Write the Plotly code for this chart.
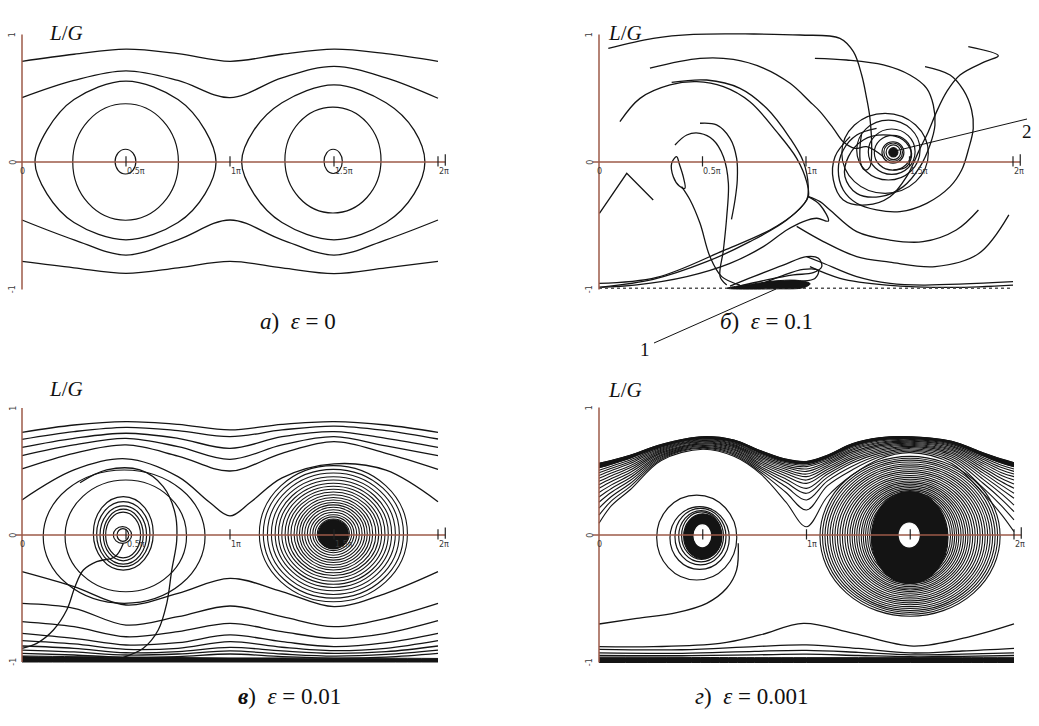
import plotly.graph_objects as go

W, H = 1039, 726
INK = '#141414'
AXIS = '#9c5a48'
LBL = '#3a3a3a'

# ---------------------------------------------------------------
# shared sample positions along the angle axis (units of pi)
X9 = [0, 0.25, 0.5, 0.75, 1.0, 1.25, 1.5, 1.75, 2.0]

# ---------------- panel а)  eps = 0 ----------------------------
a_wave1_y = [0.79, 0.845, 0.885, 0.85, 0.79, 0.845, 0.885, 0.85, 0.79]
a_wave2_y = [0.505, 0.64, 0.715, 0.64, 0.505, 0.66, 0.75, 0.66, 0.5]
a_wave3_y = [-0.455, -0.61, -0.73, -0.61, -0.455, -0.61, -0.73, -0.61, -0.455]
a_wave4_y = [-0.78, -0.83, -0.873, -0.83, -0.78, -0.83, -0.875, -0.83, -0.78]
a_loopL_x = [0.0625, 0.12, 0.25, 0.5, 0.75, 0.88, 0.933, 0.88, 0.75, 0.5, 0.25, 0.12, 0.0625]
a_loopL_y = [0, 0.25, 0.49, 0.635, 0.49, 0.25, 0, -0.25, -0.475, -0.61, -0.475, -0.25, 0]
a_loopR_x = [1.056, 1.115, 1.25, 1.5, 1.75, 1.885, 1.937, 1.885, 1.75, 1.5, 1.25, 1.115, 1.056]
a_loopR_y = [0, 0.25, 0.465, 0.605, 0.465, 0.25, 0, -0.25, -0.475, -0.61, -0.475, -0.25, 0]
a_ring_cx = [0.498, 1.495, 0.4975, 1.496]
a_ring_cy = [0.0, 0.015, 0.003, 0.005]
a_ring_rx = [0.254, 0.231, 0.05, 0.044]
a_ring_ry = [0.457, 0.415, 0.097, 0.095]

# ---------------- panel б)  eps = 0.1 --------------------------
b_c1_x = [0.045, 0.262, 0.456, 0.746, 0.971, 1.164, 1.229, 1.269, 1.293, 1.309, 1.317, 1.309, 1.285, 1.264, 1.261, 1.269]
b_c1_y = [0.891, 0.970, 1.001, 1.004, 0.996, 0.970, 0.865, 0.682, 0.499, 0.342, 0.081, -0.037, -0.063, -0.010, 0.120, 0.225]
b_c2_x = [0.246, 0.488, 0.649, 0.794, 0.923, 1.019, 1.068, 1.132, 1.180, 1.237, 1.293, 1.374]
b_c2_y = [0.737, 0.813, 0.805, 0.737, 0.617, 0.473, 0.395, 0.264, 0.159, 0.107, 0.12, 0.042]
b_c3_x = [1.043, 1.196, 1.374, 1.502, 1.583, 1.615, 1.623, 1.599, 1.551, 1.470, 1.357, 1.245, 1.188, 1.205, 1.277, 1.374, 1.470, 1.510, 1.486, 1.422]
b_c3_y = [0.813, 0.800, 0.761, 0.682, 0.578, 0.447, 0.290, 0.133, -0.037, -0.193, -0.272, -0.246, -0.115, 0.042, 0.173, 0.212, 0.173, 0.068, -0.037, -0.063]
b_c4_x = [1.784, 1.929, 1.865, 1.744, 1.680, 1.631, 1.591, 1.551, 1.486, 1.406, 1.293, 1.180, 1.132, 1.140, 1.213]
b_c4_y = [0.905, 0.834, 0.787, 0.682, 0.552, 0.395, 0.238, 0.107, -0.115, -0.272, -0.337, -0.298, -0.141, 0.042, 0.199]
b_c5_x = [1.575, 1.696, 1.760, 1.800, 1.808, 1.784, 1.752, 1.696, 1.583, 1.454, 1.341, 1.245, 1.180, 1.156, 1.180, 1.245, 1.341]
b_c5_y = [0.748, 0.682, 0.565, 0.408, 0.264, 0.094, -0.063, -0.193, -0.324, -0.389, -0.376, -0.324, -0.220, -0.063, 0.094, 0.212, 0.264]
b_L1_x = [0.101, 0.198, 0.343, 0.472, 0.601, 0.729, 0.858, 0.955, 1.003, 1.011, 0.955, 0.826, 0.601, 0.279, 0.0]
b_L1_y = [0.316, 0.499, 0.604, 0.630, 0.591, 0.473, 0.238, 0.029, -0.154, -0.272, -0.389, -0.533, -0.695, -0.905, -0.952]
b_L2_x = [0.351, 0.520, 0.681, 0.810, 0.923, 0.987, 1.011, 1.003, 0.907, 0.729, 0.520, 0.262, 0.0]
b_L2_y = [0.625, 0.643, 0.578, 0.421, 0.186, 0.003, -0.193, -0.298, -0.455, -0.625, -0.782, -0.920, -0.983]
b_hook_x = [1.011, 1.068, 1.108, 1.052, 0.987, 0.907, 0.794, 0.633, 0.424, 0.182, 0.0]
b_hook_y = [-0.272, -0.337, -0.463, -0.441, -0.467, -0.533, -0.664, -0.795, -0.899, -0.964, -0.983]
b_R1_x = [1.011, 1.068, 1.116, 1.245, 1.404, 1.565, 1.726, 1.833]
b_R1_y = [-0.272, -0.311, -0.376, -0.546, -0.612, -0.625, -0.533, -0.376]
b_R2_x = [0.955, 1.084, 1.245, 1.404, 1.624, 1.833, 1.98]
b_R2_y = [-0.505, -0.624, -0.742, -0.785, -0.82, -0.72, -0.415]
b_A1_x = [0.367, 0.424, 0.488, 0.552, 0.601, 0.625, 0.617, 0.601, 0.585, 0.617]
b_A1_y = [0.133, 0.212, 0.225, 0.173, 0.042, -0.167, -0.429, -0.690, -0.899, -0.965]
b_A2_x = [0.488, 0.568, 0.633, 0.665, 0.668, 0.657, 0.64]
b_A2_y = [0.304, 0.291, 0.186, 0.029, -0.141, -0.298, -0.45]
b_drop_x = [0.375, 0.351, 0.359, 0.388, 0.415, 0.407, 0.388, 0.375]
b_drop_y = [0.042, -0.010, -0.115, -0.188, -0.206, -0.115, -0.016, 0.042]
b_V1_x = [0.399, 0.440, 0.488, 0.536, 0.593, 0.681]
b_V1_y = [-0.193, -0.298, -0.481, -0.742, -0.899, -0.965]
b_wedge_x = [0.002, 0.134, 0.262]
b_wedge_y = [-0.403, -0.089, -0.298]
b_H1_x = [0.633, 0.746, 0.890, 1.003, 1.060, 1.076, 1.035, 0.939, 0.810, 0.665]
b_H1_y = [-0.973, -0.899, -0.808, -0.742, -0.755, -0.821, -0.868, -0.886, -0.925, -0.977]
b_H2_x = [0.746, 0.874, 0.987, 1.060, 1.043, 0.955, 0.842]
b_H2_y = [-0.983, -0.899, -0.842, -0.853, -0.913, -0.939, -0.978]
b_RB1_x = [1.003, 1.084, 1.245, 1.406, 1.567, 2.0]
b_RB1_y = [-0.742, -0.794, -0.899, -0.952, -0.965, -0.939]
b_RB2_x = [1.019, 1.164, 1.390, 1.712, 2.0]
b_RB2_y = [-0.821, -0.912, -0.965, -0.983, -0.965]
b_blob_x = [0.62, 0.75, 0.87, 0.97, 1.02, 0.99, 0.85, 0.62]
b_blob_y = [-0.99, -0.955, -0.93, -0.93, -0.955, -0.985, -0.995, -0.99]
b_spiral_cx = [1.422, 1.421, 1.420, 1.419, 1.414, 1.398, 1.382]
b_spiral_cy = [0.076, 0.077, 0.075, 0.073, 0.081, 0.094, 0.068]
b_spiral_rx = [0.035, 0.045, 0.053, 0.089, 0.113, 0.153, 0.209]
b_spiral_ry = [0.058, 0.072, 0.084, 0.136, 0.178, 0.235, 0.314]

# ---------------- panel в)  eps = 0.01 -------------------------
c_top_y = [
    [0.808, 0.866, 0.892, 0.871, 0.827, 0.871, 0.892, 0.866, 0.808],
    [0.753, 0.814, 0.848, 0.822, 0.774, 0.827, 0.858, 0.822, 0.756],
    [0.690, 0.761, 0.801, 0.761, 0.682, 0.774, 0.814, 0.761, 0.690],
    [0.625, 0.709, 0.761, 0.696, 0.596, 0.709, 0.774, 0.701, 0.625],
    [0.520, 0.643, 0.709, 0.622, 0.504, 0.643, 0.735, 0.643, 0.517],
]
c_sep_x = [0, 0.25, 0.5, 0.75, 0.9, 1.0, 1.1, 1.25, 1.5, 1.75, 2.0]
c_sep_y = [0.276, 0.512, 0.60, 0.46, 0.26, 0.15, 0.26, 0.45, 0.56, 0.51, 0.262]
c_bot_y = [
    [-0.289, -0.407, -0.551, -0.459, -0.341, -0.446, -0.564, -0.459, -0.289],
    [-0.538, -0.577, -0.709, -0.643, -0.559, -0.643, -0.722, -0.656, -0.538],
    [-0.682, -0.722, -0.801, -0.761, -0.696, -0.761, -0.814, -0.774, -0.675],
    [-0.774, -0.814, -0.866, -0.848, -0.787, -0.840, -0.879, -0.848, -0.774],
    [-0.832, -0.858, -0.900, -0.892, -0.840, -0.884, -0.911, -0.892, -0.832],
    [-0.874, -0.892, -0.927, -0.919, -0.885, -0.913, -0.932, -0.919, -0.874],
    [-0.906, -0.921, -0.945, -0.937, -0.913, -0.937, -0.953, -0.940, -0.906],
    [-0.932, -0.945, -0.963, -0.958, -0.937, -0.958, -0.969, -0.961, -0.932],
]
c_floor_y = [-0.952, -0.958, -0.962, -0.965, -0.968, -0.968, -0.97, -0.97, -0.972]
c_armA_x = [0.487, 0.447, 0.359, 0.295, 0.255, 0.215, 0.151, 0.071, 0.0]
c_armA_y = [-0.066, -0.171, -0.21, -0.276, -0.407, -0.591, -0.748, -0.853, -0.892]
c_armB_x = [0.279, 0.407, 0.567, 0.679, 0.736, 0.744, 0.72, 0.696, 0.655, 0.583, 0.487]
c_armB_y = [0.412, 0.512, 0.512, 0.381, 0.171, -0.039, -0.276, -0.538, -0.748, -0.892, -0.963]
c_ringL_cx = [0.491, 0.499, 0.487, 0.487, 0.487, 0.487, 0.486, 0.483, 0.485]
c_ringL_cy = [-0.013, -0.007, 0.013, 0.007, 0.0, 0.0, 0.0, 0.0, 0.0]
c_ringL_rx = [0.389, 0.292, 0.144, 0.128, 0.112, 0.096, 0.084, 0.044, 0.028]
c_ringL_ry = [0.525, 0.44, 0.289, 0.256, 0.230, 0.203, 0.18, 0.066, 0.05]
c_ringR_rx = [0.356, 0.337, 0.317, 0.298, 0.280, 0.264, 0.248, 0.232, 0.218, 0.204,
              0.189, 0.176, 0.163, 0.151, 0.138, 0.125, 0.112, 0.099, 0.088, 0.077]
c_ringR_ry = [0.536, 0.507, 0.478, 0.449, 0.423, 0.398, 0.374, 0.350, 0.329, 0.307,
              0.285, 0.266, 0.246, 0.227, 0.208, 0.189, 0.169, 0.150, 0.133, 0.116]
c_ringR_center = (1.497, 0.01)
c_coreR = (1.497, 0.005, 0.072, 0.115)

# ---------------- panel г)  eps = 0.001 ------------------------
d_band_x = [0, 0.06, 0.15, 0.3, 0.5, 0.65, 0.78, 0.9, 1.0, 1.1, 1.22, 1.35, 1.5, 1.7, 1.85, 1.94, 2.0]
# one column per sample position, trajectories listed from the top down
d_band_cols = [
    [0.562, 0.545, 0.527, 0.508, 0.488, 0.467, 0.445, 0.421, 0.395, 0.366, 0.334, 0.298, 0.257, 0.211, 0.156, 0.092],
    [0.585, 0.571, 0.556, 0.540, 0.523, 0.505, 0.486, 0.465, 0.443, 0.419, 0.393, 0.365, 0.335, 0.302, 0.267, 0.23],
    [0.625, 0.614, 0.602, 0.589, 0.575, 0.560, 0.544, 0.527, 0.509, 0.490, 0.470, 0.449, 0.427, 0.404, 0.38, 0.355],
    [0.71, 0.703, 0.696, 0.689, 0.681, 0.673, 0.665, 0.657, 0.648, 0.639, 0.630, 0.621, 0.612, 0.603, 0.594, 0.585],
    [0.771, 0.765, 0.759, 0.753, 0.747, 0.741, 0.735, 0.729, 0.722, 0.715, 0.708, 0.701, 0.694, 0.687, 0.68, 0.673],
    [0.745, 0.738, 0.731, 0.724, 0.717, 0.709, 0.701, 0.693, 0.684, 0.675, 0.666, 0.657, 0.647, 0.637, 0.627, 0.617],
    [0.66, 0.651, 0.642, 0.632, 0.622, 0.611, 0.60, 0.588, 0.576, 0.563, 0.55, 0.536, 0.522, 0.507, 0.492, 0.477],
    [0.595, 0.586, 0.576, 0.566, 0.555, 0.543, 0.53, 0.516, 0.50, 0.483, 0.463, 0.44, 0.413, 0.38, 0.335, 0.26],
    [0.577, 0.570, 0.560, 0.549, 0.536, 0.518, 0.499, 0.478, 0.458, 0.431, 0.405, 0.366, 0.327, 0.275, 0.196, 0.065],
    [0.625, 0.616, 0.606, 0.596, 0.585, 0.573, 0.56, 0.546, 0.531, 0.514, 0.496, 0.476, 0.452, 0.423, 0.385, 0.30],
    [0.715, 0.706, 0.696, 0.686, 0.675, 0.664, 0.652, 0.639, 0.626, 0.612, 0.597, 0.581, 0.564, 0.54, 0.51, 0.47],
    [0.762, 0.754, 0.746, 0.737, 0.728, 0.719, 0.709, 0.699, 0.688, 0.677, 0.665, 0.653, 0.64, 0.626, 0.611, 0.595],
    [0.771, 0.764, 0.757, 0.75, 0.743, 0.736, 0.728, 0.72, 0.712, 0.704, 0.695, 0.686, 0.677, 0.667, 0.657, 0.646],
    [0.735, 0.727, 0.719, 0.711, 0.702, 0.693, 0.683, 0.673, 0.662, 0.651, 0.639, 0.626, 0.612, 0.597, 0.58, 0.56],
    [0.645, 0.633, 0.621, 0.608, 0.594, 0.579, 0.563, 0.546, 0.528, 0.508, 0.487, 0.464, 0.438, 0.408, 0.372, 0.33],
    [0.595, 0.580, 0.564, 0.547, 0.529, 0.510, 0.489, 0.467, 0.443, 0.417, 0.389, 0.358, 0.322, 0.28, 0.228, 0.16],
    [0.567, 0.552, 0.536, 0.518, 0.499, 0.478, 0.458, 0.431, 0.400, 0.366, 0.327, 0.288, 0.235, 0.183, 0.118, 0.026],
]
d_ringR_center = (1.499, -0.01)
d_ringR_rx = [0.434, 0.422, 0.41, 0.398, 0.386, 0.374, 0.362, 0.35, 0.338, 0.326, 0.314,
              0.302, 0.29, 0.279, 0.268, 0.257, 0.246, 0.235, 0.225, 0.215, 0.205, 0.195]
d_ringR_ry = [0.627, 0.612, 0.597, 0.582, 0.567, 0.552, 0.537, 0.522, 0.507, 0.492, 0.477,
              0.462, 0.447, 0.434, 0.421, 0.408, 0.395, 0.382, 0.37, 0.358, 0.346, 0.334]
d_coreR = (1.497, -0.02, 0.185, 0.36)
d_holeR = (1.495, 0.0, 0.048, 0.094)
d_ringL_cx = [0.471, 0.485, 0.489, 0.492, 0.494]
d_ringL_cy = [-0.02, -0.024, -0.013, -0.01, -0.005]
d_ringL_rx = [0.193, 0.143, 0.123, 0.108, 0.096]
d_ringL_ry = [0.333, 0.246, 0.222, 0.201, 0.186]
d_coreL = (0.5, -0.01, 0.092, 0.176)
d_holeL = (0.498, -0.006, 0.04, 0.085)
d_arm_x = [0.671, 0.663, 0.615, 0.519, 0.374, 0.182, 0.0]
d_arm_y = [-0.065, -0.275, -0.418, -0.536, -0.609, -0.654, -0.698]
d_w1_x = [0, 0.262, 0.583, 0.776, 0.985, 1.226, 1.515, 1.788, 2.0]
d_w1_y = [-0.876, -0.876, -0.85, -0.784, -0.693, -0.771, -0.871, -0.797, -0.698]
d_low_x = [0, 0.4, 0.75, 1.0, 1.25, 1.5, 1.75, 2.0]
d_low_y = [
    [-0.897, -0.90, -0.875, -0.862, -0.89, -0.925, -0.91, -0.889],
    [-0.925, -0.928, -0.912, -0.905, -0.92, -0.94, -0.935, -0.925],
    [-0.945, -0.947, -0.94, -0.935, -0.945, -0.955, -0.952, -0.945],
]
d_floor_y = [-0.958, -0.96, -0.962, -0.962, -0.962, -0.962, -0.962, -0.962]

# tick marks / labels along the angle axis
x_tick_pos = [0.5, 1.0, 1.5, 2.0]
x_tick_txt = ['0.5\u03c0', '1\u03c0', '1.5\u03c0', '2\u03c0']
y_tick_pos = [1, 0, -1]
y_tick_txt = ['1', '0', '-1']

# ---------------------------------------------------------------
# pixel placement of every panel: origin and pixels per unit
panels = {
    'a': dict(n='', px0=22, sx=208.0, py0=162, sy=127.5),
    'b': dict(n='2', px0=599, sx=207.0, py0=162, sy=127.5),
    'c': dict(n='3', px0=22, sx=208.0, py0=535, sy=127.0),
    'd': dict(n='4', px0=599, sx=207.5, py0=535, sy=127.5),
}
XR = (-0.1, 2.1)
YR = (-1.12, 1.12)

fig = go.Figure()
shapes = []
axis_shapes = []
annotations = []


def refs(p):
    n = panels[p]['n']
    return 'x' + n, 'y' + n


def curve(p, xs, ys, shape='spline', width=1.3, color=INK, dash=None):
    xr, yr = refs(p)
    fig.add_trace(go.Scatter(
        x=xs, y=ys, mode='lines', xaxis=xr, yaxis=yr,
        line=dict(color=color, width=width, shape=shape, smoothing=1.0, dash=dash),
        hoverinfo='skip', showlegend=False))


def filled(p, xs, ys, shape='spline'):
    xr, yr = refs(p)
    fig.add_trace(go.Scatter(
        x=xs, y=ys, mode='lines', xaxis=xr, yaxis=yr, fill='toself',
        fillcolor=INK, line=dict(color=INK, width=1, shape=shape),
        hoverinfo='skip', showlegend=False))


def band(p, xs, y_top, y_bot):
    xr, yr = refs(p)
    fig.add_trace(go.Scatter(x=xs, y=y_bot, mode='lines', xaxis=xr, yaxis=yr,
                             line=dict(color=INK, width=1, shape='spline'),
                             hoverinfo='skip', showlegend=False))
    fig.add_trace(go.Scatter(x=xs, y=y_top, mode='lines', xaxis=xr, yaxis=yr,
                             fill='tonexty', fillcolor=INK,
                             line=dict(color=INK, width=1, shape='spline'),
                             hoverinfo='skip', showlegend=False))


def ellipse(p, cx, cy, rx, ry, fill=None, width=1.2, color=INK):
    xr, yr = refs(p)
    s = dict(type='circle', xref=xr, yref=yr,
             x0=cx - rx, x1=cx + rx, y0=cy - ry, y1=cy + ry,
             line=dict(color=color, width=width))
    if fill:
        s['fillcolor'] = fill
    shapes.append(s)


# ---------------- panel а ----------------
curve('a', X9, a_wave1_y)
curve('a', X9, a_wave2_y)
curve('a', X9, a_wave3_y)
curve('a', X9, a_wave4_y)
curve('a', a_loopL_x, a_loopL_y)
curve('a', a_loopR_x, a_loopR_y)
for cx, cy, rx, ry in zip(a_ring_cx, a_ring_cy, a_ring_rx, a_ring_ry):
    ellipse('a', cx, cy, rx, ry)

# ---------------- panel б ----------------
for xs, ys in [(b_c1_x, b_c1_y), (b_c2_x, b_c2_y), (b_c3_x, b_c3_y), (b_c4_x, b_c4_y),
               (b_c5_x, b_c5_y), (b_L1_x, b_L1_y), (b_L2_x, b_L2_y), (b_hook_x, b_hook_y),
               (b_R1_x, b_R1_y), (b_R2_x, b_R2_y), (b_A1_x, b_A1_y), (b_A2_x, b_A2_y),
               (b_drop_x, b_drop_y), (b_V1_x, b_V1_y), (b_H1_x, b_H1_y), (b_H2_x, b_H2_y),
               (b_RB1_x, b_RB1_y), (b_RB2_x, b_RB2_y)]:
    curve('b', xs, ys)
curve('b', b_wedge_x, b_wedge_y, shape='linear')
curve('b', [0, 2.0], [-0.99, -0.99], shape='linear', width=1.4, color='#555555', dash='dot')
filled('b', b_blob_x, b_blob_y)
for cx, cy, rx, ry in zip(b_spiral_cx, b_spiral_cy, b_spiral_rx, b_spiral_ry):
    ellipse('b', cx, cy, rx, ry)
ellipse('b', b_spiral_cx[0], b_spiral_cy[0], 0.022, 0.036, fill=INK)

# ---------------- panel в ----------------
for ys in c_top_y:
    curve('c', X9, ys)
curve('c', c_sep_x, c_sep_y)
for ys in c_bot_y:
    curve('c', X9, ys)
band('c', X9, c_floor_y, [-1.0] * len(X9))
curve('c', c_armA_x, c_armA_y)
curve('c', c_armB_x, c_armB_y)
for cx, cy, rx, ry in zip(c_ringL_cx, c_ringL_cy, c_ringL_rx, c_ringL_ry):
    ellipse('c', cx, cy, rx, ry)
for rx, ry in zip(c_ringR_rx, c_ringR_ry):
    ellipse('c', c_ringR_center[0], c_ringR_center[1], rx, ry, width=1.1)
ellipse('c', *c_coreR, fill=INK)

# ---------------- panel г ----------------
n_band = len(d_band_cols[0])
for i in range(n_band):
    curve('d', d_band_x, [col[i] for col in d_band_cols], width=1.1)
band('d', d_band_x, [col[0] for col in d_band_cols], [col[2] for col in d_band_cols])
for rx, ry in zip(d_ringR_rx, d_ringR_ry):
    ellipse('d', d_ringR_center[0], d_ringR_center[1], rx, ry, width=1.1)
ellipse('d', *d_coreR, fill=INK)
ellipse('d', *d_holeR, fill='white', color='white')
for cx, cy, rx, ry in zip(d_ringL_cx, d_ringL_cy, d_ringL_rx, d_ringL_ry):
    ellipse('d', cx, cy, rx, ry)
ellipse('d', *d_coreL, fill=INK)
ellipse('d', *d_holeL, fill='white', color='white')
curve('d', d_arm_x, d_arm_y)
curve('d', d_w1_x, d_w1_y)
for ys in d_low_y:
    curve('d', d_low_x, ys)
band('d', d_low_x, d_floor_y, [-1.0] * len(d_low_x))

# ---------------- axes drawn by hand for every panel ----------------
for key, g in panels.items():
    xr, yr = refs(key)
    ln = lambda x0, y0, x1, y1, c=AXIS, w=1.5: axis_shapes.append(dict(
        type='line', xref=xr, yref=yr, x0=x0, y0=y0, x1=x1, y1=y1,
        line=dict(color=c, width=w)))
    ln(0, -1, 0, 1)
    ln(-0.03, 0, 2.035, 0)
    for xt in x_tick_pos:
        ln(xt, -0.035, xt, 0.045, c='#222222', w=1.2)
    ln(2.035, -0.03, 2.035, 0.06, c='#222222', w=1.2)
    annotations.append(dict(x=0, y=-0.025, xref=xr, yref=yr, text='0', showarrow=False,
                            xanchor='center', yanchor='top',
                            font=dict(family='DejaVu Sans', size=8, color=LBL)))
    for xt, tt in zip(x_tick_pos, x_tick_txt):
        if key == 'd' and xt in (0.5, 1.5):
            continue
        annotations.append(dict(x=xt - 0.005, y=-0.025, xref=xr, yref=yr, text=tt,
                                showarrow=False, xanchor='left', yanchor='top',
                                font=dict(family='DejaVu Sans', size=8, color=LBL)))
    for yt, tt in zip(y_tick_pos, y_tick_txt):
        annotations.append(dict(x=-0.045, y=yt, xref=xr, yref=yr, text=tt, textangle=-90,
                                showarrow=False, xanchor='center', yanchor='middle',
                                font=dict(family='DejaVu Sans', size=8, color=LBL)))


def paper(px, py):
    return px / W, 1 - py / H


# axis titles and captions
serif = 'Liberation Serif'
for (px, py) in [(47, 19), (625, 19), (47, 389), (625, 390)]:
    x, y = paper(px, py)
    annotations.append(dict(x=x, y=y, xref='paper', yref='paper', showarrow=False,
                            text='<i>L</i>/<i>G</i>', font=dict(family=serif, size=21, color='#111')))
captions = [
    ((258, 321), '<i>а</i>)  <i>\u03b5</i> = 0'),
    ((815, 322), '<i>б</i>)  <i>\u03b5</i> = 0.1'),
    ((236, 711), '<b><i>в</i></b>)  <i>\u03b5</i> = 0.01'),
    ((810, 711), '<i>г</i>)  <i>\u03b5</i> = 0.001'),
]
for (px, py), txt in captions:
    x, y = paper(px, py)
    annotations.append(dict(x=x, y=y, xref='paper', yref='paper', showarrow=False,
                            text=txt, font=dict(family=serif, size=23, color='#111')))

# leader lines in panel б
for (lx, ly), (ex, ey), (tx, ty), lab in [((1027, 119), (895, 151), (1034, 119), '2'),
                                           ((654, 343), (776, 289), (645, 349), '1')]:
    x0, y0 = paper(lx, ly)
    x1, y1 = paper(ex, ey)
    axis_shapes.append(dict(type='line', xref='paper', yref='paper', x0=x0, y0=y0, x1=x1, y1=y1,
                            line=dict(color='#111', width=1)))
    x, y = paper(tx, ty)
    annotations.append(dict(x=x, y=y, xref='paper', yref='paper', showarrow=False, text=lab,
                            font=dict(family=serif, size=19, color='#111')))

layout_axes = {}
for key, g in panels.items():
    n = g['n']
    xd = [(g['px0'] + XR[0] * g['sx']) / W, (g['px0'] + XR[1] * g['sx']) / W]
    yd = [1 - (g['py0'] - YR[0] * g['sy']) / H, 1 - (g['py0'] - YR[1] * g['sy']) / H]
    layout_axes['xaxis' + n] = dict(domain=xd, range=list(XR), visible=False, anchor='y' + n)
    layout_axes['yaxis' + n] = dict(domain=yd, range=list(YR), visible=False, anchor='x' + n)

fig.update_layout(
    width=W, height=H, margin=dict(l=0, r=0, t=0, b=0),
    paper_bgcolor='white', plot_bgcolor='white',
    shapes=shapes + axis_shapes, annotations=annotations, showlegend=False,
    **layout_axes)

fig.write_html('out.html', config={'displayModeBar': False})
